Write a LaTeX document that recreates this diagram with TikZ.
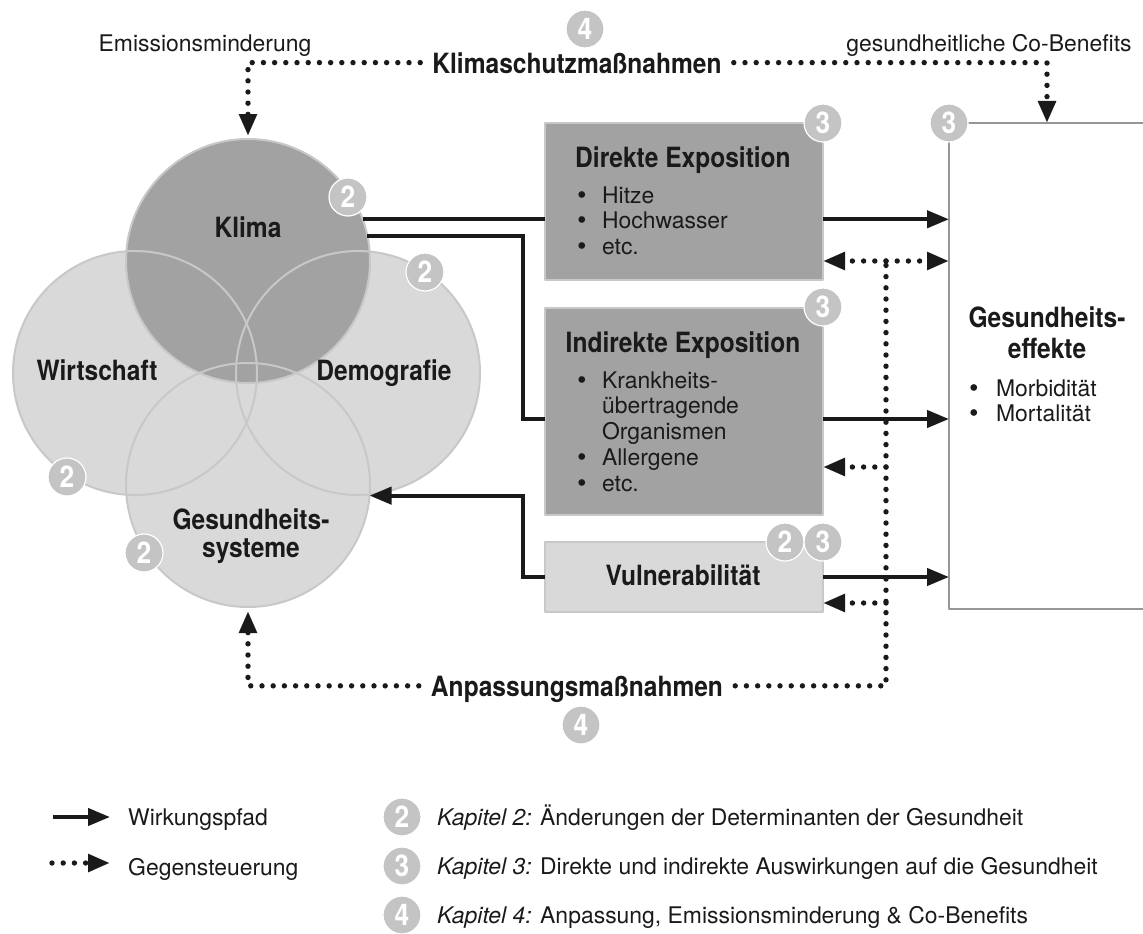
\documentclass[tikz,border=0pt]{standalone}
\usepackage{fontspec}
\setmainfont{TeX Gyre Heros}
\newfontfamily\condfont[FakeStretch=0.88]{TeX Gyre Heros}
\newfontface\bulfont{DejaVu Sans}
\usetikzlibrary{arrows.meta,shapes}
\definecolor{darkfill}{RGB}{162,162,162}
\definecolor{lightfill}{RGB}{217,217,217}
\definecolor{ringgray}{RGB}{200,200,200}
\definecolor{badgegray}{RGB}{196,196,196}
\definecolor{edgegray}{RGB}{150,150,150}
\definecolor{ink}{RGB}{26,26,26}
\newcommand\ttlfont{\condfont\bfseries\fontsize{28}{28}\selectfont}
\newcommand\txtfont{\fontsize{23}{26}\selectfont}
\newcommand\bul{{\bulfont •}}

\begin{document}
\begin{tikzpicture}[>={Triangle[length=22bp,width=17bp]},line join=bevel,x=1bp,y=-1bp,
  venn/.style={circle,minimum size=244bp,inner sep=0pt,outer sep=0pt},
  ring/.style={draw=ringgray,line width=2bp},
  expbox/.style={rectangle,draw=ringgray,line width=2.5bp,minimum width=278bp,outer sep=0pt},
  badge/.style={circle,fill=badgegray,draw=white,line width=1.2bp,minimum size=38bp,inner sep=0pt,
    text=white,font=\condfont\bfseries\fontsize{30}{30}\selectfont},
  ttl/.style={font=\ttlfont,text=ink,inner sep=0pt},
  txt/.style={font=\txtfont,text=ink,inner sep=0pt},
  lbl/.style={ttl,text depth=0pt,inner xsep=12bp},
  wpath/.style={draw=ink,line width=4.2bp,line join=miter},
  gpath/.style={draw=ink,line width=5.4bp,line cap=round,dash pattern=on 0bp off 11.2bp}]
  \useasboundingbox (0,0) rectangle (1143,934); \clip (0,0) rectangle (1143,934);
  \node (wir) at (135,373) [venn,fill=lightfill] {}; \node (dem) at (358,373) [venn,fill=lightfill] {};
  \node (gsy) at (248,485) [venn,fill=lightfill] {}; \node (kli) at (248,261) [venn,fill=darkfill] {};
  \foreach \c in {wir,dem,gsy,kli} \draw[ring] (\c.center) circle (122bp);
  \node (tkli) at (248,237) [ttl,anchor=base] {Klima};
  \node (twir) at (97,380) [ttl,anchor=base] {Wirtschaft};
  \node (tdem) at (384,380) [ttl,anchor=base] {Demografie};
  \node (tgsy) at (251,536) [ttl,align=center] {Gesundheits-\\systeme};
  \node (dex) at (684,201.5) [expbox,fill=darkfill,minimum height=157bp] {};
  \node (iex) at (684,411.5) [expbox,fill=darkfill,minimum height=207bp] {};
  \node (vul) at (684,577) [expbox,fill=lightfill,minimum height=70bp] {};
  \node (gef) at (1060,366) [rectangle,draw=edgegray,fill=white,line width=2.5bp,
    minimum width=222bp,minimum height=486bp,outer sep=0pt] {};
  \node (tdex) at (683,167) [ttl,anchor=base] {Direkte Exposition};
  \node (tiex) at (683,352) [ttl,anchor=base] {Indirekte Exposition};
  \node (tvul) at (683,585) [ttl,anchor=base] {Vulnerabilität};
  \node (tgef) at (1047,333) [ttl,align=center] {Gesundheits-\\[3bp]effekte};
  \node (ldex) at (575,203) [txt,anchor=base west] {\begin{tabular}[t]{@{}l@{\hspace{13.4bp}}l@{}}
    \bul&Hitze\\\bul&Hochwasser\\\bul&etc.\end{tabular}};
  \node (liex) at (575,388) [txt,anchor=base west] {\begin{tabular}[t]{@{}l@{\hspace{13.4bp}}l@{}}
    \bul&Krankheits-\\&übertragende\\&Organismen\\\bul&Allergene\\\bul&etc.\end{tabular}};
  \node (lgef) at (967,396) [txt,anchor=base west] {\begin{tabular}[t]{@{}l@{\hspace{15.4bp}}l@{}}
    \bul&Morbidität\\\bul&Mortalität\end{tabular}};
  \node (kst) at (577,73) [lbl,anchor=base] {Klimaschutzmaßnahmen};
  \node (anp) at (577,696) [lbl,anchor=base] {Anpassungsmaßnahmen};
  \node (emi) at (205,51) [txt,anchor=base] {Emissionsminderung};
  \node (cob) at (989,51) [txt,anchor=base] {gesundheitliche Co-Benefits};
  \coordinate (jn) at (523,0); \coordinate (vx) at (886,261);
  \coordinate (lv2) at (0,419); \coordinate (lv4) at (0,467); \coordinate (lv5) at (0,603);
  \draw[wpath] (kli.20) -- (kli.20 -| dex.west);
  \draw[wpath,->] (dex.east |- kli.20) -- (gef.west |- kli.20);
  \draw[wpath] (kli.12) -- (kli.12 -| jn) |- (iex.west |- lv2);
  \draw[wpath,->] (iex.east |- lv2) -- (gef.west |- lv2);
  \draw[wpath,->] (vul.west) -- (vul.west -| jn) |- (gsy.-5);
  \draw[wpath,->] (vul.east) -- (gef.west |- vul.east);
  \draw[gpath,->,shorten >=3bp] (kst.west) -| (kli.north);
  \draw[gpath,->] (kst.east) -| (tgef.north |- gef.north);
  \draw[gpath] (anp.east) -| (vx);
  \draw[gpath,->] (vx) -- (dex.east |- vx); \draw[gpath,->] (vx) -- (gef.west |- vx);
  \draw[gpath,->] (vx |- lv4) -- (iex.east |- lv4);
  \draw[gpath,->] (vx |- lv5) -- (vul.east |- lv5);
  \draw[gpath,->,shorten >=4bp] (anp.west) -| (gsy.south);
  \node (b2kli) at (348,197) [badge] {2}; \node (b2dem) at (425,272) [badge] {2};
  \node (b2wir) at (67,477) [badge] {2}; \node (b2gsy) at (144,553) [badge] {2};
  \node (b3dex) at (823,123) [badge] {3}; \node (b3iex) at (823,307) [badge] {3};
  \node (b2vul) at (785,542) [badge] {2}; \node (b3vul) at (823,542) [badge] {3};
  \node (b3gef) at (949,123) [badge] {3};
  \node (b4kst) at (585,29) [badge] {4}; \node (b4anp) at (581,725) [badge] {4};
  \coordinate (lw0) at (53,817); \coordinate (lw1) at (110,817);
  \coordinate (lg0) at (52,863); \coordinate (lg1) at (110,863);
  \draw[wpath,->] (lw0) -- (lw1); \draw[gpath,->] (lg0) -- (lg1);
  \node (wkp) at (128,825) [txt,anchor=base west] {Wirkungspfad};
  \node (gst) at (128,875) [txt,anchor=base west] {Gegensteuerung};
  \foreach \n/\y/\t in {2/817/{Änderungen der Determinanten der Gesundheit},
    3/866/{Direkte und indirekte Auswirkungen auf die Gesundheit},
    4/915/{Anpassung, Emissionsminderung \& Co-Benefits}}{
    \node (k\n) at (402,\y) [badge] {\n};
    \node (tk\n) at (437,\y+8) [txt,anchor=base west] {\textit{Kapitel \n:} \t};}
\end{tikzpicture}
\end{document}
